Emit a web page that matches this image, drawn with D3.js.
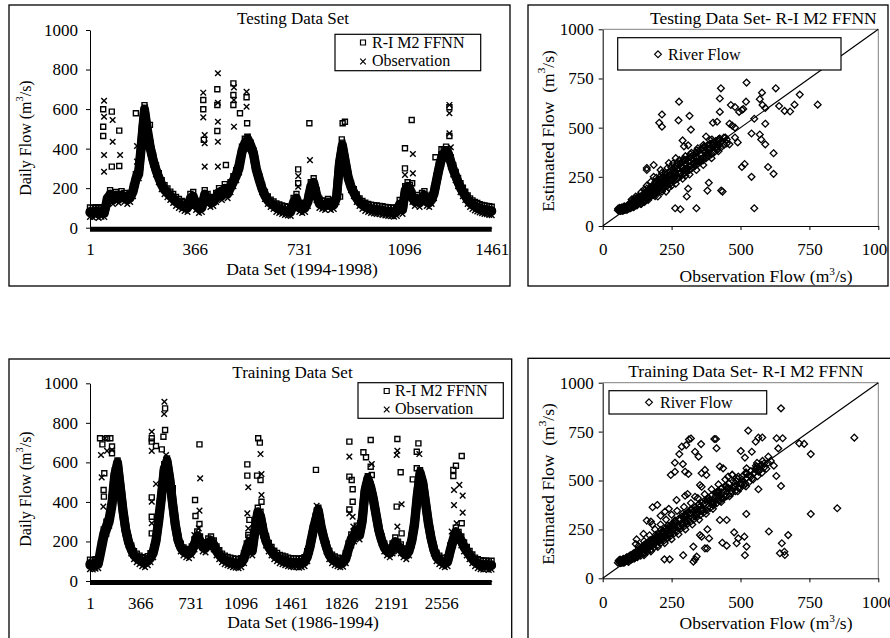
<!DOCTYPE html>
<html>
<head>
<meta charset="utf-8">
<script src="https://cdn.jsdelivr.net/npm/d3@7"></script>
<style>
body { margin: 0; background: #fff; }
svg text { font-family: "Liberation Serif", "Times New Roman", serif; fill: #000; white-space: pre; }
</style>
</head>
<body>
<svg id="chart" width="890" height="638"></svg>
<script>
// ---- data ----
// testing period 1994-1998, one value every 10 days (day 1, 11, ... 1461)
const testObs = [
  75,72,78,70,76,74,150,165,140,155,
  145,160,150,140,150,180,240,270,420,590,
  480,400,340,290,250,215,190,175,160,145,
  130,120,112,105,100,130,150,110,95,100,
  160,140,125,130,150,170,160,190,170,200,
  230,260,300,380,420,450,420,380,300,250,
  200,165,140,125,115,100,95,90,85,82,
  80,120,140,100,95,100,130,200,220,160,
  120,115,110,120,110,115,150,330,420,340,
  260,210,180,150,130,115,105,100,95,92,
  90,88,85,82,80,78,76,80,115,90,
  180,200,190,150,130,140,125,150,160,130,
  125,140,170,230,290,340,370,385,370,330,
  290,260,230,200,180,160,140,125,115,108,
  102,97,93,90,88,85,83
];
const testEst = [
  82,80,84,78,83,80,130,170,150,160,
  150,165,155,145,155,190,250,290,440,600,
  500,410,345,295,255,220,195,178,162,150,
  135,125,115,110,105,150,160,115,100,105,
  170,150,130,135,155,180,170,200,180,210,
  240,270,320,390,430,440,410,370,290,240,
  195,160,138,122,112,102,97,92,88,85,
  85,130,150,105,98,105,140,210,230,170,
  125,118,115,125,115,118,160,320,410,330,
  250,205,175,148,128,115,106,100,96,94,
  92,90,88,85,83,82,80,84,120,95,
  190,210,195,155,135,145,130,155,165,135,
  128,145,180,240,300,350,375,390,375,335,
  295,262,232,205,182,162,143,128,118,110,
  105,99,95,92,90,88,86
];
// flood days that stand out of the band [day, flow]
const testObsPeaks = [
  [50,642],[50,561],[50,368],[50,283],[80,545],[80,435],[106,368],[165,413],[165,334],[193,609],
  [396,683],[396,558],[401,469],[401,427],[401,309],[447,781],[447,632],[447,536],[447,435],[447,309],
  [503,710],[503,646],[503,511],[547,688],[547,612],[549,460],[727,261],[727,207],[768,342],
  [1133,373],[1100,267],[1133,275],[1285,621],[1285,579],[1285,477],[1291,407]
];
const testEstPeaks = [
  [47,599],[47,511],[47,464],[77,587],[77,309],[103,491],[103,312],[161,579],[210,520],
  [396,646],[396,599],[398,444],[445,700],[445,621],[445,489],[475,317],[501,730],[501,671],[501,621],
  [524,579],[547,660],[549,528],[727,295],[727,225],[766,528],[879,447],[882,528],[890,536],[873,157],
  [1128,545],[1100,402],[1100,300],[1130,225],[1285,609],[1285,464],[1252,397],[1227,356]
];

// training period 1986-1994, one value every 20 days (day 1, 21, ... 2921)
const trainObs = [
  80,78,82,85,150,220,260,300,380,520,
  600,480,360,260,200,160,130,115,105,95,
  90,100,115,140,200,300,420,560,610,520,
  400,290,210,170,150,140,135,150,180,220,
  200,170,165,190,200,180,150,130,115,105,
  100,95,90,88,85,90,110,160,190,150,
  250,340,320,250,200,170,150,130,120,110,
  105,100,95,92,90,90,88,90,95,120,
  170,240,300,360,280,220,170,130,110,100,
  95,90,92,110,160,200,220,250,230,300,
  450,520,480,420,340,260,210,170,150,140,
  160,190,170,160,140,130,150,200,280,420,
  550,500,400,300,220,160,120,105,95,90,
  95,150,200,240,220,200,170,150,130,110,
  95,85,80,78,80,76,78
];
const trainEst = [
  88,85,90,92,170,240,280,320,400,540,
  590,470,350,255,195,158,130,118,108,100,
  95,105,120,150,210,320,440,570,600,510,
  390,280,205,168,150,142,138,155,190,230,
  205,175,170,195,205,185,155,135,118,108,
  102,98,94,92,90,95,120,170,200,160,
  270,350,330,255,205,172,152,133,122,112,
  108,104,98,95,94,94,92,95,100,130,
  180,250,310,350,270,215,168,132,113,104,
  98,94,96,120,170,215,230,260,240,320,
  460,510,470,410,330,255,205,168,150,142,
  170,200,178,165,145,135,160,210,300,440,
  540,490,390,290,215,158,122,108,98,94,
  100,160,210,250,228,205,175,152,132,114,
  98,90,85,82,84,80,82
];
const trainObsPeaks = [
  [81,637],[86,524],[98,376],[110,722],[125,658],[161,663],[450,755],[450,658],[450,401],[450,292],
  [481,491],[542,907],[540,845],[554,637],[760,233],[802,519],[797,356],[792,266],[1152,474],[1145,342],
  [1152,266],[1241,642],[1248,541],[1248,435],[1649,381],[1887,629],[1887,342],[1911,325],[1916,275],
  [2050,592],[2050,469],[2236,659],[2231,637],[2267,388],[2236,275],[2396,642],[2648,460],[2687,486],
  [2648,384],[2711,432],[2711,346],[2667,292],[2631,250]
];
const trainEstPeaks = [
  [74,722],[91,691],[105,545],[100,460],[102,427],[125,722],[149,722],[161,680],[161,646],[450,722],
  [450,705],[450,423],[450,325],[450,241],[481,683],[523,666],[535,730],[547,873],[547,764],[603,469],
  [765,410],[768,329],[797,691],[797,288],[705,152],[1145,590],[1145,533],[1160,309],[1152,233],
  [1224,722],[1236,700],[1216,533],[1248,401],[1241,511],[1644,562],[1649,351],[1887,705],[1887,528],
  [1904,511],[1911,464],[1911,401],[1887,362],[1965,292],[1989,651],[2008,626],[2042,713],[2042,578],
  [2050,536],[2236,718],[2260,550],[2231,376],[2267,241],[2389,696],[2377,654],[2377,570],[2348,514],
  [2643,562],[2662,583],[2643,531],[2704,632],[2704,292]
];

// scatter: extra [observed, estimated] pairs beyond the sampled series
const testPairs = [
  [55,80],[58,85],[60,78],[63,88],[66,82],[70,90],[74,84],[78,92],[82,88],[86,97],[90,91],[94,101],
  [98,95],[102,108],[106,100],[110,116],[115,108],[118,124],[122,115],[126,133],[130,122],[134,142],
  [138,130],[142,150],[147,138],[152,160],[157,146],[162,170],[167,156],[172,182],[177,166],[182,192],
  [187,176],[192,204],[197,186],[202,214],[207,196],[212,226],[217,206],[222,236],[227,216],[232,248],
  [237,226],[242,258],[247,236],[252,270],[257,248],[262,280],[268,258],[274,292],[280,270],[286,302],
  [292,282],[298,316],[305,292],[312,326],[318,306],[325,340],[332,318],[340,352],[348,330],[356,366],
  [364,345],[372,380],[380,360],[390,395],[398,375],[408,410],[418,395],[428,425],[440,412],
  [60,90],[65,76],[70,95],[75,80],[80,98],[85,84],[90,104],[95,88],[100,112],[105,94],[110,124],
  [115,100],[120,132],[125,108],[130,140],[135,116],[140,150],[145,124],[150,165],[155,132],[160,178],
  [165,140],[170,190],[175,150],[180,205],[185,158],[190,215],[195,168],[200,228],[205,176],[210,240],
  [215,186],[220,252],[225,196],[230,262],[235,205],[240,275],[245,215],[250,285],[255,225],[260,298],
  [265,235],[270,305],[275,245],[280,318],[285,255],[290,325],[295,265],[300,335],[305,275],[310,345],
  [315,285],[320,352],[325,295],[330,362],[335,305],[340,372],[345,315],[350,382],[355,325],[360,392],
  [365,335],[370,400],[375,345],[380,410],[385,355],[390,418],[395,365],[400,425],[405,375],[410,432],
  [415,385],[420,440],[430,400],[440,450],[450,420],
  [56,88],[62,92],[68,86],[72,78],[78,100],[84,92],[88,82],[94,110],[100,90],[108,130],[112,96],
  [118,140],[124,104],[132,150],[138,112],[146,160],[152,122],[160,190],[168,148],[176,198],[184,170],
  [192,225],[200,182],[208,250],[218,200],[228,270],[238,218],[248,300],[258,242],[270,320],[282,265],
  [294,340],[306,290],[318,365],[330,315],[342,385],[356,340],[368,405],[382,372],[396,440],[410,395],
  [424,445],
  [120,150],[140,172],[160,205],[175,225],[195,245],[215,270],[235,295],[255,318],[278,335],[300,355],
  [322,372],[345,395],[365,412],[388,438],[140,112],[165,132],[190,152],[215,175],[240,195],[265,215],
  [290,240],[315,262],[340,285],[365,310],[395,345],[420,380],[105,135],[150,185],[185,250],[210,285],
  [240,320],[265,345],[250,205],[300,255],[330,300],[355,330],[230,175],[200,150],
  [429,700],[522,729],[628,700],[277,632],[520,632],[425,648],[570,645],[578,678],[580,615],[715,668],
  [780,617],[696,617],[640,610],[660,585],[680,582],[505,590],[550,545],[590,520],[540,470],[570,465],
  [575,440],[590,415],[620,370],[600,300],[620,265],[515,315],[505,300],[540,250],[550,90],[340,90],
  [282,85],[263,90],[305,150],[310,190],[380,180],[385,220],[430,180],[435,175],[215,567],[205,525],
  [215,505],[275,537],[315,560],[320,490],[290,435],[295,405],[310,410],[160,295],[160,285],[185,310],
  [375,455],[400,525],[415,530],[460,520],[445,450],[460,415],[470,510],[480,605],[465,615],[495,580],
  [510,595],[480,450],[490,425],[425,580]
];
const trainPairs = [
  [55,80],[60,84],[64,78],[68,88],[72,82],[76,92],[80,86],[85,96],[90,90],[95,102],[100,96],[105,110],
  [110,103],[116,120],[122,112],[128,132],[134,124],[140,146],[146,136],[152,160],[158,148],[165,175],
  [172,162],[179,190],[186,176],[193,205],[200,190],[207,220],[214,204],[221,236],[228,218],[235,252],
  [242,232],[250,268],[258,248],[266,284],[274,262],[282,300],[290,278],[298,316],[306,294],[315,332],
  [324,310],[333,348],[342,326],[351,364],[360,344],[370,382],[380,362],[390,400],[400,380],[410,420],
  [420,398],[432,440],[444,418],[456,462],[468,440],[480,485],[492,462],[505,505],[518,485],[530,528],
  [542,510],[555,555],[565,545],[575,580],[585,565],[560,590],[580,600],
  [60,92],[66,78],[72,96],[78,84],[84,104],[90,88],[96,112],[102,94],[108,122],[114,100],[120,132],
  [126,108],[132,144],[138,116],[144,156],[150,126],[156,170],[162,136],[168,184],[174,146],[180,198],
  [186,156],[192,212],[198,168],[204,226],[210,180],[216,240],[222,192],[228,254],[234,204],[240,266],
  [246,216],[252,280],[258,228],[264,292],[270,240],[276,304],[282,252],[288,316],[294,264],[300,328],
  [306,276],[312,340],[318,288],[324,352],[330,300],[336,364],[342,312],[348,376],[354,324],[360,388],
  [366,336],[372,400],[378,348],[384,412],[390,360],[396,424],[402,372],[408,436],[414,384],[420,448],
  [426,396],[432,460],[438,408],[444,472],[450,420],[458,484],[466,432],[474,496],[482,446],[490,508],
  [498,460],[506,520],[514,476],[522,534],[530,490],[538,548],[546,506],[554,560],[562,522],[570,572],
  [578,540],[586,588],[594,560],
  [58,90],[63,96],[70,80],[75,100],[82,92],[88,108],[94,84],[100,118],[106,98],[112,128],[118,106],
  [125,142],[132,118],[140,158],[148,130],[156,178],[164,150],[172,196],[182,168],[192,222],[202,186],
  [212,248],[224,206],[236,270],[248,230],[262,296],[276,258],[290,330],[304,286],[318,350],[334,316],
  [350,380],[366,350],[382,408],[398,382],[414,440],[430,410],[448,470],[466,448],[484,500],[502,482],
  [520,540],[538,520],[556,575],[572,556],
  [130,165],[150,190],[170,220],[190,250],[210,275],[230,300],[250,325],[270,345],[295,365],[320,385],
  [345,410],[370,430],[395,455],[420,480],[445,505],[470,530],[150,118],[175,138],[200,160],[225,180],
  [250,200],[275,225],[300,250],[325,275],[350,300],[375,330],[400,355],[430,390],[460,420],[490,445],
  [520,470],[120,175],[180,275],[210,320],[240,355],
  [647,869],[528,755],[320,715],[313,710],[405,712],[411,712],[413,665],[287,673],[303,681],[278,635],
  [262,591],[291,584],[335,647],[348,622],[247,528],[262,545],[299,545],[311,533],[357,686],[359,537],
  [371,554],[376,528],[353,477],[359,468],[308,431],[299,422],[335,417],[268,400],[181,363],[198,375],
  [226,341],[160,295],[175,290],[123,199],[148,227],[565,719],[579,720],[555,698],[631,716],[653,716],
  [637,664],[601,622],[621,576],[630,523],[647,472],[713,690],[731,687],[755,635],[501,651],[516,617],
  [541,647],[522,562],[565,455],[755,329],[851,358],[913,719],[521,329],[603,239],[673,221],[650,179],
  [659,136],[661,119],[643,128],[514,213],[522,162],[516,118],[492,204],[477,235],[486,179],[450,167],
  [434,182],[425,298],[450,298],[380,250],[386,204],[371,153],[379,153],[353,221],[359,213],[329,162],
  [341,111],[335,97],[329,85],[292,118],[224,97],[243,97],[425,571],[437,562],[455,520],[470,528],
  [492,520],[504,477]
];

const seriesTicks = [0, 200, 400, 600, 800, 1000];
const scatterTicks = [0, 250, 500, 750, 1000];
const testDayTicks = [1, 366, 731, 1096, 1461];
const trainDayTicks = [1, 366, 731, 1096, 1461, 1826, 2191, 2556];

// ---- drawing ----
const svg = d3.select("#chart");
const FS = 17;        // titles and tick labels
const FS_LEG = 16;    // legends

const markers = {
  square: "M-2.5,-2.5H2.5V2.5H-2.5Z",
  cross: "M-2.8,-2.8L2.8,2.8M-2.8,2.8L2.8,-2.8",
  diamond: "M0,-3.4L3.4,0L0,3.4L-3.4,0Z"
};

function drawMarks(g, pts, shape, sw) {
  g.append("g").selectAll("path").data(pts).join("path")
    .attr("transform", d => `translate(${d[0]},${d[1]})`)
    .attr("d", markers[shape])
    .attr("fill", "none").attr("stroke", "#000").attr("stroke-width", sw || 1.4);
}

function frame(g, b) {
  g.append("rect").attr("x", b.x).attr("y", b.y).attr("width", b.w).attr("height", b.h)
    .attr("fill", "none").attr("stroke", "#000").attr("stroke-width", 1.3);
}

function styleAxis(sel) {
  sel.attr("font-size", FS).attr("font-family", null);
  sel.select(".domain").attr("stroke", "#000");
  sel.selectAll(".tick line").attr("stroke", "#000");
  sel.selectAll(".tick text").attr("fill", "#000");
}

function flowLabel(g, prefix, x, y, rotate, size) {
  const t = g.append("text")
    .attr("transform", `translate(${x},${y})` + (rotate ? " rotate(-90)" : ""))
    .attr("text-anchor", "middle").attr("font-size", size);
  t.append("tspan").text(prefix + "(m");
  t.append("tspan").attr("font-size", size * 0.65).attr("dy", -size * 0.38).text("3");
  t.append("tspan").attr("dy", size * 0.38).text("/s)");
  return t;
}

function legendBox(g, L) {
  g.append("rect").attr("x", L.x).attr("y", L.y).attr("width", L.w).attr("height", L.h)
    .attr("fill", "#fff").attr("stroke", "#000").attr("stroke-width", 1.2);
  L.items.forEach(it => {
    drawMarks(g, [[L.mx, it.my]], it.shape, 1.2);
    g.append("text").attr("x", L.tx).attr("y", it.base).attr("font-size", FS_LEG).text(it.label);
  });
}

function seriesPanel(o) {
  const g = svg.append("g");
  frame(g, o.box);
  const x = d3.scaleLinear().domain(o.xDomain).range(o.xRange);
  const y = d3.scaleLinear().domain([0, 1000]).range(o.yRange);
  const day = i => 1 + i * o.step;

  g.append("g").attr("transform", `translate(${o.xRange[0]},0)`)
    .call(d3.axisLeft(y).tickValues(seriesTicks).tickSize(4).tickSizeOuter(0).tickPadding(8)
      .tickFormat(d3.format("d")))
    .call(styleAxis);
  g.append("g").attr("transform", `translate(0,${o.yRange[0]})`)
    .call(d3.axisBottom(x).tickValues(o.dayTicks).tickSize(0).tickPadding(o.xPad).tickFormat(d3.format("d")))
    .call(styleAxis);

  // zero series drawn as a solid bar along the axis
  g.append("path")
    .attr("d", d3.line()([[x(1), y(0) + 1.5], [x(o.lastDay), y(0) + 1.5]]))
    .attr("stroke", "#000").attr("stroke-width", 5);

  const line = d3.line().x((d, i) => x(day(i))).y(d => y(d));
  [o.obs, o.est].forEach(s => {
    g.append("path").datum(s).attr("d", line)
      .attr("fill", "none").attr("stroke", "#000").attr("stroke-width", 9)
      .attr("stroke-linejoin", "round").attr("stroke-linecap", "round");
  });
  drawMarks(g, o.est.map((v, i) => [x(day(i)), y(v) - 4]), "square");
  drawMarks(g, o.obs.map((v, i) => [x(day(i)), y(v) + 4]), "cross");
  drawMarks(g, o.estPeaks.map(d => [x(d[0]), y(d[1])]), "square");
  drawMarks(g, o.obsPeaks.map(d => [x(d[0]), y(d[1])]), "cross");

  g.append("text").attr("x", o.titlePos[0]).attr("y", o.titlePos[1])
    .attr("text-anchor", "middle").attr("font-size", FS).text(o.title);
  g.append("text").attr("x", o.xTitlePos[0]).attr("y", o.xTitlePos[1])
    .attr("text-anchor", "middle").attr("font-size", 17.5).text(o.xTitle);
  flowLabel(g, "Daily Flow ", o.yTitlePos[0], o.yTitlePos[1], true, 16).attr("dominant-baseline", "central");
  legendBox(g, o.legend);
}

function scatterPanel(o, id) {
  const g = svg.append("g");
  g.append("clipPath").attr("id", id).append("rect")
    .attr("x", o.box.x).attr("y", o.box.y).attr("width", o.box.w).attr("height", o.box.h);
  const inner = g.append("g").attr("clip-path", `url(#${id})`);
  frame(g, o.box);
  const x = d3.scaleLinear().domain([0, 1000]).range(o.xRange);
  const y = d3.scaleLinear().domain([0, 1000]).range(o.yRange);

  // plot area outline (top and right)
  inner.append("path")
    .attr("d", d3.line()([[x(0), y(1000)], [x(1000), y(1000)], [x(1000), y(0)]]))
    .attr("fill", "none").attr("stroke", "#808080").attr("stroke-width", 1);

  const pts = o.obs.map((v, i) => [v, o.est[i]]).concat(o.pairs);
  drawMarks(inner, pts.map(d => [x(d[0]), y(d[1])]), "diamond", 1.3);

  inner.append("path").attr("d", d3.line()([[x(0), y(0)], [x(1000), y(1000)]]))
    .attr("stroke", "#000").attr("stroke-width", 1.2);

  inner.append("g").attr("transform", `translate(${o.xRange[0]},0)`)
    .call(d3.axisLeft(y).tickValues(scatterTicks).tickSize(4).tickSizeOuter(0).tickPadding(5)
      .tickFormat(d3.format("d")))
    .call(styleAxis);
  inner.append("g").attr("transform", `translate(0,${o.yRange[0]})`)
    .call(d3.axisBottom(x).tickValues(scatterTicks).tickSize(4).tickSizeOuter(0).tickPadding(o.xPad)
      .tickFormat(d3.format("d")))
    .call(styleAxis);

  inner.append("text").attr("x", o.titlePos[0]).attr("y", o.titlePos[1])
    .attr("text-anchor", "middle").attr("font-size", 17.5).text(o.title);
  flowLabel(inner, "Observation Flow ", o.xTitlePos[0], o.xTitlePos[1], false, 17.5);
  flowLabel(inner, "Estimated Flow  ", o.yTitlePos[0], o.yTitlePos[1], true, 17.5).attr("dominant-baseline", "central");
  legendBox(inner, o.legend);
}

seriesPanel({
  box: { x: 9, y: 5, w: 501, h: 281 },
  xDomain: [1, 1096, 1461], xRange: [90, 404, 491.7], yRange: [227.7, 30], xPad: 15.5,
  dayTicks: testDayTicks, step: 10, lastDay: 1461,
  obs: testObs, est: testEst, obsPeaks: testObsPeaks, estPeaks: testEstPeaks,
  title: "Testing Data Set", titlePos: [293, 24],
  xTitle: "Data Set (1994-1998)", xTitlePos: [302, 275], yTitlePos: [25, 138],
  legend: { x: 335, y: 34.3, w: 145.7, h: 36.4, mx: 363, tx: 372,
    items: [ { shape: "square", my: 42.5, base: 47.7, label: "R-I M2 FFNN" },
             { shape: "cross", my: 61.5, base: 66, label: "Observation" } ] }
});

seriesPanel({
  box: { x: 9, y: 359, w: 502.7, h: 300 },
  xDomain: [1, 2922], xRange: [90, 491.7], yRange: [581, 383.3], xPad: 16,
  dayTicks: trainDayTicks, step: 20, lastDay: 2922,
  obs: trainObs, est: trainEst, obsPeaks: trainObsPeaks, estPeaks: trainEstPeaks,
  title: "Training Data Set", titlePos: [292.5, 378],
  xTitle: "Data Set (1986-1994)", xTitlePos: [303, 628], yTitlePos: [25, 489],
  legend: { x: 358, y: 382.7, w: 145.3, h: 35.6, mx: 386.7, tx: 395,
    items: [ { shape: "square", my: 391, base: 396, label: "R-I M2 FFNN" },
             { shape: "cross", my: 409.5, base: 414, label: "Observation" } ] }
});

scatterPanel({
  box: { x: 528, y: 5, w: 360, h: 281 },
  xRange: [602.7, 878.3], yRange: [226, 29.3], xPad: 13,
  obs: testObs, est: testEst, pairs: testPairs,
  title: "Testing Data Set- R-I M2 FFNN", titlePos: [763.3, 24],
  xTitlePos: [766, 282], yTitlePos: [548, 131],
  legend: { x: 617.7, y: 37.7, w: 223.3, h: 32.3, mx: 658, tx: 668,
    items: [ { shape: "diamond", my: 54.3, base: 60, label: "River Flow" } ] }
}, "clipTest");

scatterPanel({
  box: { x: 528, y: 358.3, w: 365, h: 300 },
  xRange: [602.7, 878.3], yRange: [578.3, 382.7], xPad: 13.5,
  obs: trainObs, est: trainEst, pairs: trainPairs,
  title: "Training Data Set- R-I M2 FFNN", titlePos: [745.8, 377],
  xTitlePos: [766, 629], yTitlePos: [548.3, 484],
  legend: { x: 609, y: 390.7, w: 157.7, h: 23.3, mx: 649, tx: 660,
    items: [ { shape: "diamond", my: 402.3, base: 407.5, label: "River Flow" } ] }
}, "clipTrain");
</script>
</body>
</html>
